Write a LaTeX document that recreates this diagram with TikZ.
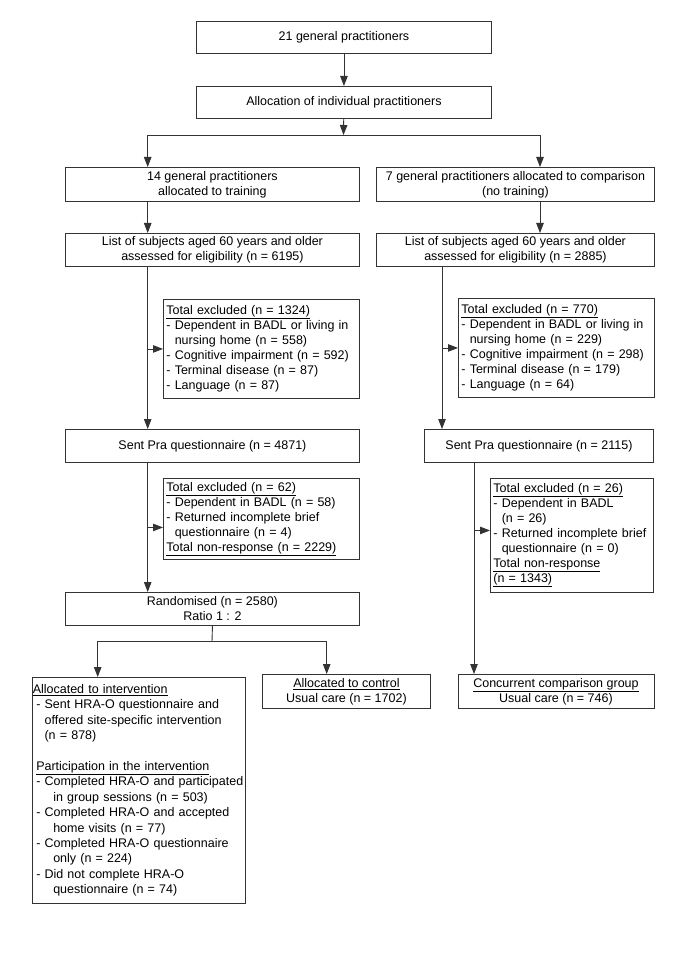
\documentclass[tikz,border=0pt]{standalone}
\usepackage{fontspec}
\setmainfont{Liberation Sans}
\usetikzlibrary{arrows.meta}

\begin{document}
\begin{tikzpicture}[x=1pt,y=-1pt,
    box/.style={draw=black!80,line width=0.9pt,anchor=north west,inner xsep=3pt,inner ysep=2pt,
                font=\fontsize{12.5}{15}\selectfont},
    cbox/.style={box,align=center},
    lbox/.style={box,align=left},
    arr/.style={-{Triangle[length=10pt,width=7.5pt]},draw=black!80,line width=0.9pt},
    ln/.style={draw=black!80,line width=0.9pt}]

    \useasboundingbox (0,0) rectangle (685,968);

% top of the chart
\node[cbox,minimum width=295,minimum height=32] (gp) at (196,21) {21 general practitioners};
\node[cbox,minimum width=295,minimum height=32] (alloc) at (196,86) {Allocation of individual practitioners};

% the two arms
\node[cbox,minimum width=294,minimum height=34] (gpL) at (65,167) {14 general practitioners\\allocated to training};
\node[cbox,minimum width=278,minimum height=34] (gpR) at (376,167) {7 general practitioners allocated to comparison\\(no training)};
\node[cbox,minimum width=294,minimum height=33] (listL) at (65,233) {List of subjects aged 60 years and older\\assessed for eligibility (n = 6195)};
\node[cbox,minimum width=278,minimum height=33] (listR) at (376,233) {List of subjects aged 60 years and older\\assessed for eligibility (n = 2885)};

\node[lbox,text width=190,minimum height=99] (exL) at (163,299) {\underline{Total excluded (n = 1324)}\\
  - Dependent in BADL or living in\\\hphantom{- }nursing home (n = 558)\\
  - Cognitive impairment (n = 592)\\- Terminal disease (n = 87)\\- Language (n = 87)};
\node[lbox,text width=190,minimum height=99] (exR) at (458,298) {\underline{Total excluded (n = 770)}\\
  - Dependent in BADL or living in\\\hphantom{- }nursing home (n = 229)\\
  - Cognitive impairment (n = 298)\\- Terminal disease (n = 179)\\- Language (n = 64)};

\node[cbox,minimum width=294,minimum height=33] (sentL) at (65,429) {Sent Pra questionnaire (n = 4871)};
\node[cbox,minimum width=229,minimum height=33] (sentR) at (424,429) {Sent Pra questionnaire (n = 2115)};

\node[lbox,text width=190,minimum height=81] (ex2L) at (163,478) {\underline{Total excluded (n = 62)}\\
  - Dependent in BADL (n = 58)\\- Returned incomplete brief\\\hphantom{- }questionnaire (n = 4)\\
  \underline{Total non-response (n = 2229)}};
\node[lbox,text width=157,minimum height=114] (ex2R) at (490,478) {\underline{Total excluded (n = 26)}\\
  - Dependent in BADL\\\hphantom{- }(n = 26)\\- Returned incomplete brief\\\hphantom{- }questionnaire (n = 0)\\
  \underline{Total non-response}\\\underline{(n = 1343)}};

\node[cbox,minimum width=294,minimum height=33] (rand) at (65,592) {Randomised (n = 2580)\\Ratio 1 : 2};

% groups at the bottom
\node[lbox,inner xsep=3.5pt,text width=206,minimum height=226,font=\fontsize{12.5}{15.4}\selectfont] (interv) at (32.3,677) {%
  \hspace*{-3.5pt}\underline{Allocated to intervention}\\
  - Sent HRA-O questionnaire and\\\hphantom{- }offered site-specific intervention\\\hphantom{- }(n = 878)\\[15.4pt]
  \underline{Participation in the intervention}\\
  \mbox{- Completed HRA-O and participated}\\\hspace*{17pt}in group sessions (n = 503)\\
  - Completed HRA-O and accepted\\\hspace*{17pt}home visits (n = 77)\\
  - Completed HRA-O questionnaire\\\hspace*{17pt}only (n = 224)\\
  - Did not complete HRA-O\\\hspace*{17pt}questionnaire (n = 74)};
\node[cbox,minimum width=168,minimum height=34] (ctrl) at (262,674) {\underline{Allocated to control}\\Usual care (n = 1702)};
\node[cbox,minimum width=196,minimum height=34] (comp) at (457.5,674) {\underline{Concurrent comparison group}\\Usual care (n = 746)};

% where the lines run
\coordinate (split) at (343.5,135);
\coordinate (split2) at (212,641.7);
\coordinate (xl) at (147.7,0);
\coordinate (xr) at (540,0);
\coordinate (xm) at (442,0);
\coordinate (xs) at (474,0);
\coordinate (xi) at (97.7,0);
\coordinate (xc) at (326.7,0);
\coordinate (e2L) at ([yshift=-8.5pt]ex2L.west);
\coordinate (e2R) at ([yshift=5pt]ex2R.west);

\draw[arr] (gp) -- (alloc);
\draw[arr] (alloc) -- (split);
\draw[arr] (split) -| (xl |- gpL.north);
\draw[arr] (split) -| (xr |- gpR.north);
\draw[arr] (gpL.south -| xl) -- (listL.north -| xl);
\draw[arr] (gpR.south -| xr) -- (listR.north -| xr);

\draw[arr] (listL.south -| xl) -- (sentL.north -| xl);
\draw[arr] (xl |- exL.west) -- (exL.west);
\draw[arr] (listR.south -| xm) -- (sentR.north -| xm);
\draw[arr] (xm |- exR.west) -- (exR.west);

\draw[arr] (sentL.south -| xl) -- (rand.north -| xl);
\draw[arr] (xl |- e2L) -- (e2L);
\draw[arr] (sentR.south -| xs) -- (comp.north -| xs);
\draw[arr] (xs |- e2R) -- (e2R);

\draw[ln] (rand.south) -- (split2);
\draw[arr] (split2) -| (xi |- interv.north);
\draw[arr] (split2) -| (xc |- ctrl.north);

\end{tikzpicture}
\end{document}
